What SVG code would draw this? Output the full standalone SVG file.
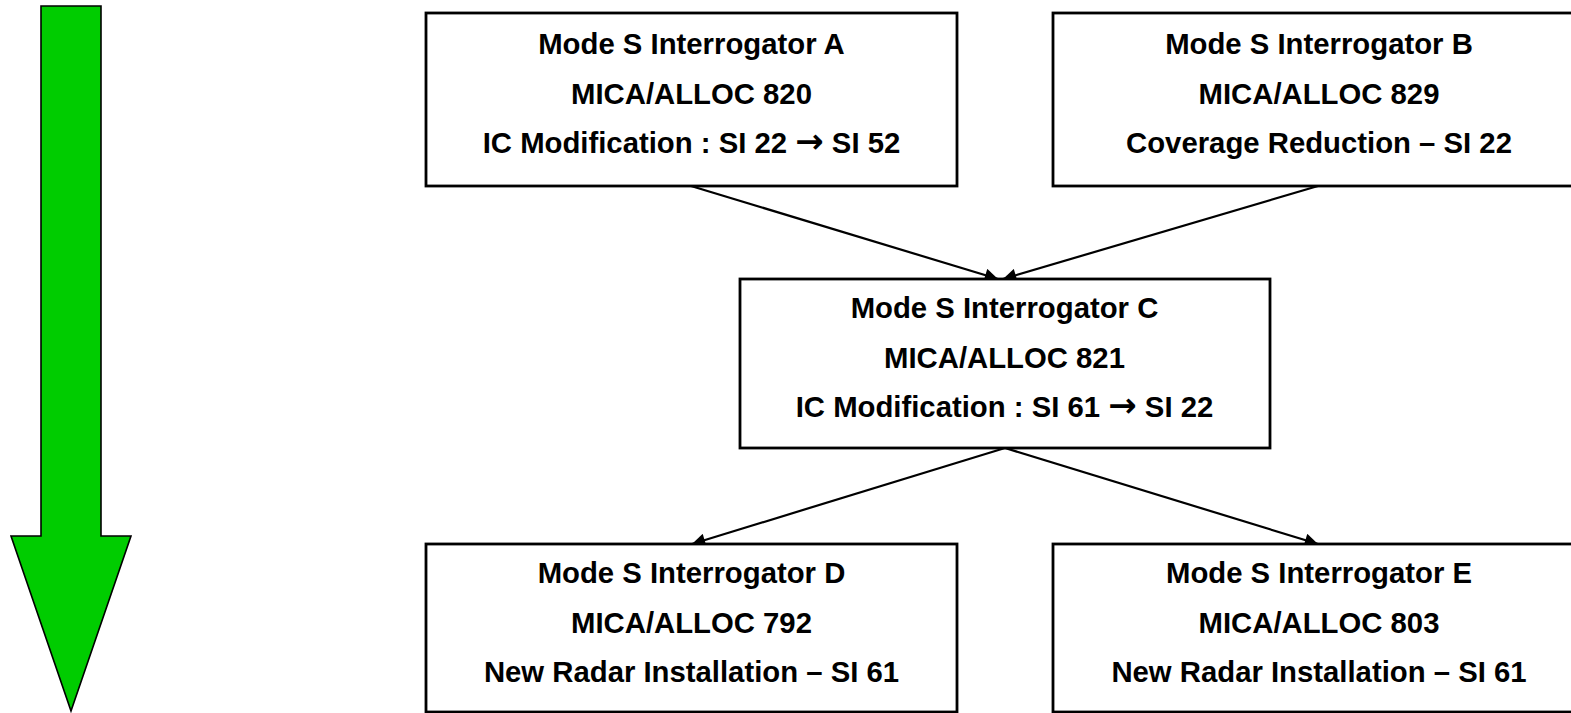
<svg xmlns="http://www.w3.org/2000/svg" width="1571" height="713" viewBox="0 0 1571 713">
<style>
.box{fill:#fff;stroke:#000;stroke-width:2.8}
.t{font-family:"Liberation Sans",Arial,sans-serif;font-weight:bold;font-size:29.3px;fill:#000;text-anchor:middle}
.ar{font-family:"DejaVu Sans",sans-serif;font-weight:bold;font-size:34px}
.c{stroke:#000;stroke-width:2.2;fill:none;marker-end:url(#ah)}
</style>
<defs>
<marker id="ah" viewBox="0 0 10 10" refX="10" refY="5" markerWidth="6.5" markerHeight="6" markerUnits="strokeWidth" orient="auto">
<path d="M0,0 L10,5 L0,10 z" fill="#000"/>
</marker>
</defs>
<rect width="1571" height="713" fill="#fff"/>
<polygon id="flow" points="41,6 101,6 101,536 131,536 71,711 11,536 41,536" fill="#00cc00" stroke="#000" stroke-width="1.6"/>
<g id="connectors">
<line class="c" x1="691" y1="186" x2="998" y2="279"/>
<line class="c" x1="1318" y1="186" x2="1003" y2="279"/>
<line class="c" x1="1005" y1="448" x2="692" y2="544"/>
<line class="c" x1="1005" y1="448" x2="1318" y2="544"/>
</g>
<g id="nodeA">
<rect class="box" x="426" y="13" width="531" height="173"/>
<text class="t" x="691.5" y="54">Mode S Interrogator A</text>
<text class="t" x="691.5" y="104">MICA/ALLOC 820</text>
<text class="t" x="691.5" y="153">IC Modification : SI 22 <tspan class="ar">→</tspan> SI 52</text>
</g>
<g id="nodeB">
<rect class="box" x="1053" y="13" width="532" height="173"/>
<text class="t" x="1319" y="54">Mode S Interrogator B</text>
<text class="t" x="1319" y="104">MICA/ALLOC 829</text>
<text class="t" x="1319" y="153">Coverage Reduction – SI 22</text>
</g>
<g id="nodeC">
<rect class="box" x="740" y="279" width="530" height="169"/>
<text class="t" x="1004.5" y="318">Mode S Interrogator C</text>
<text class="t" x="1004.5" y="368">MICA/ALLOC 821</text>
<text class="t" x="1004.5" y="417">IC Modification : SI 61 <tspan class="ar">→</tspan> SI 22</text>
</g>
<g id="nodeD">
<rect class="box" x="426" y="544" width="531" height="168"/>
<text class="t" x="691.5" y="583">Mode S Interrogator D</text>
<text class="t" x="691.5" y="633">MICA/ALLOC 792</text>
<text class="t" x="691.5" y="682">New Radar Installation – SI 61</text>
</g>
<g id="nodeE">
<rect class="box" x="1053" y="544" width="532" height="168"/>
<text class="t" x="1319" y="583">Mode S Interrogator E</text>
<text class="t" x="1319" y="633">MICA/ALLOC 803</text>
<text class="t" x="1319" y="682">New Radar Installation – SI 61</text>
</g>
</svg>
